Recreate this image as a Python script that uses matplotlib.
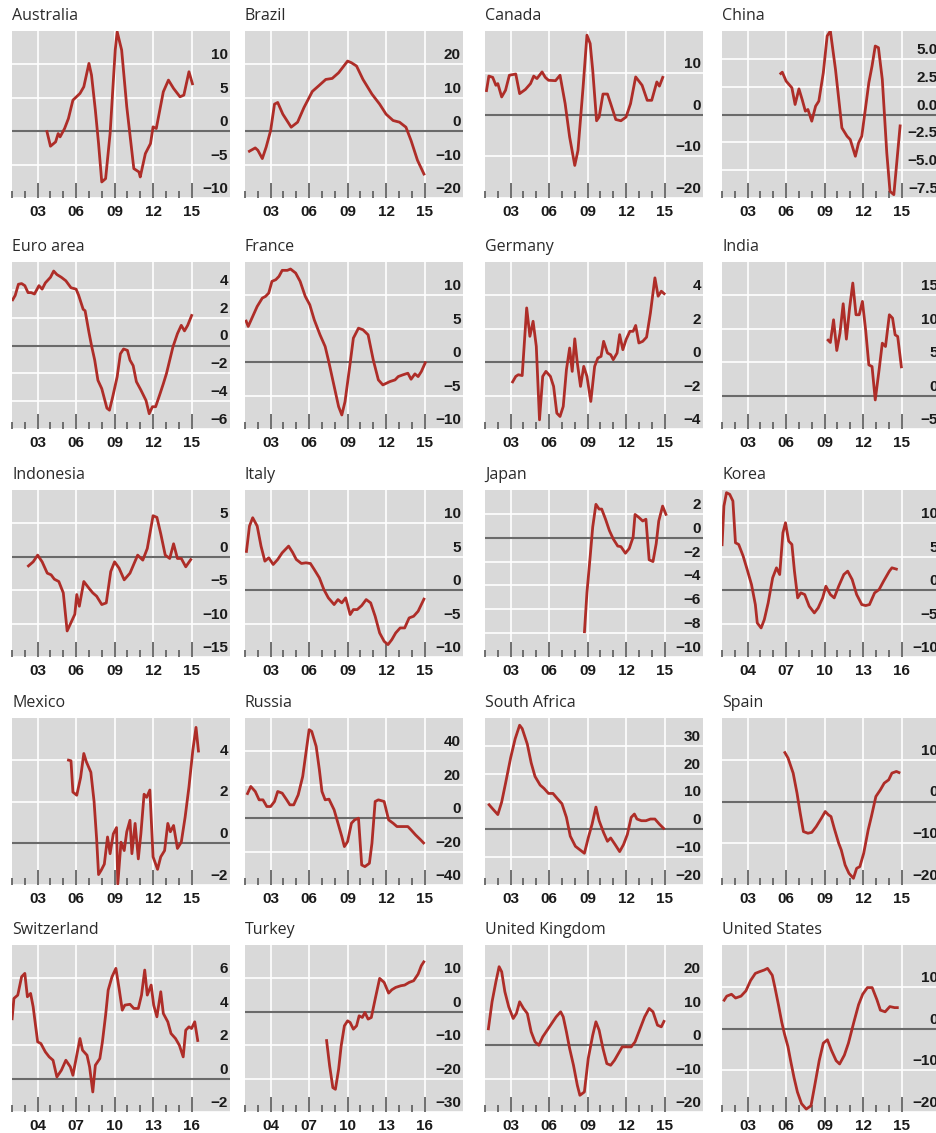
import matplotlib
matplotlib.use("Agg")
import matplotlib.pyplot as plt
import matplotlib.transforms as mtransforms

# ---------------- data ----------------
countries = ["Australia", "Brazil", "Canada", "China",
             "Euro area", "France", "Germany", "India",
             "Indonesia", "Italy", "Japan", "Korea",
             "Mexico", "Russia", "South Africa", "Spain",
             "Switzerland", "Turkey", "United Kingdom", "United States"]

australia_x = [2003.7, 2004.0, 2004.4, 2004.6, 2004.75, 2005.1, 2005.4, 2005.75, 2006.3, 2006.6, 2007.0, 2007.2, 2007.5, 2007.75, 2008.0, 2008.3, 2008.65, 2009.05, 2009.2, 2009.55, 2009.95, 2010.5, 2010.9, 2011.0, 2011.4, 2011.8, 2012.0, 2012.25, 2012.8, 2013.2, 2013.6, 2014.1, 2014.4, 2014.8, 2015.1]
australia_y = [0.15, -2.25, -1.6, -0.35, -0.85, 0.4, 1.9, 4.65, 5.65, 6.65, 10.15, 8.4, 3.15, -1.85, -7.6, -7.1, -0.35, 12.15, 14.9, 12.15, 3.65, -5.6, -6.1, -6.85, -3.35, -1.85, 0.65, 0.4, 5.9, 7.65, 6.4, 5.15, 5.4, 8.9, 6.9]

brazil_x = [2001.25, 2001.8, 2002.0, 2002.35, 2002.65, 2003.0, 2003.3, 2003.55, 2003.95, 2004.6, 2005.1, 2005.6, 2006.25, 2006.75, 2007.3, 2007.8, 2008.3, 2009.0, 2009.3, 2009.7, 2010.2, 2010.9, 2011.5, 2012.0, 2012.55, 2013.05, 2013.55, 2013.95, 2014.45, 2015.0]
brazil_y = [-6.2, -5.0, -5.7, -8.2, -4.75, 0.2, 8.1, 8.6, 5.1, 1.2, 2.7, 7.1, 11.9, 13.6, 15.5, 15.8, 17.5, 21.0, 20.5, 19.5, 15.5, 11.1, 8.1, 5.1, 3.2, 2.7, 1.2, -2.8, -8.7, -13.2]

canada_x = [2001.1, 2001.3, 2001.6, 2001.85, 2002.0, 2002.3, 2002.6, 2002.9, 2003.4, 2003.7, 2004.15, 2004.55, 2004.8, 2005.05, 2005.45, 2005.7, 2005.95, 2006.5, 2006.85, 2007.25, 2007.6, 2008.0, 2008.25, 2008.65, 2008.95, 2009.2, 2009.4, 2009.7, 2009.9, 2010.2, 2010.55, 2010.8, 2011.2, 2011.6, 2012.0, 2012.35, 2012.75, 2013.25, 2013.65, 2014.0, 2014.4, 2014.6, 2014.9]
canada_y = [5.4, 9.2, 8.9, 7.0, 7.4, 4.2, 5.8, 9.4, 9.7, 5.0, 6.0, 7.4, 9.2, 8.6, 10.2, 8.9, 8.2, 8.1, 9.4, 2.6, -5.4, -12.2, -8.6, 6.6, 19.0, 17.0, 10.6, -1.5, -0.6, 4.9, 4.9, 2.6, -1.2, -1.5, -0.6, 2.6, 9.0, 7.0, 3.4, 3.4, 7.8, 6.8, 9.2]

china_x = [2005.5, 2005.7, 2006.0, 2006.45, 2006.7, 2007.0, 2007.25, 2007.5, 2007.7, 2008.0, 2008.3, 2008.55, 2008.9, 2009.2, 2009.45, 2009.85, 2010.35, 2010.75, 2011.0, 2011.4, 2011.65, 2011.9, 2012.45, 2012.7, 2012.95, 2013.2, 2013.5, 2013.85, 2014.1, 2014.4, 2014.65, 2014.9]
china_y = [3.6, 3.8, 3.0, 2.4, 0.9, 2.3, 1.35, 0.3, 0.45, -0.6, 0.75, 1.2, 3.75, 7.05, 7.5, 4.05, -1.2, -1.95, -2.25, -3.75, -2.55, -1.95, 2.85, 4.35, 6.15, 6.0, 3.15, -3.45, -6.9, -7.2, -4.05, -0.9]

euro_x = [2001.0, 2001.25, 2001.5, 2001.75, 2002.0, 2002.25, 2002.5, 2002.75, 2003.1, 2003.35, 2003.6, 2004.0, 2004.25, 2004.5, 2004.85, 2005.2, 2005.6, 2006.0, 2006.2, 2006.55, 2006.7, 2007.0, 2007.2, 2007.45, 2007.7, 2008.0, 2008.4, 2008.6, 2008.85, 2009.2, 2009.45, 2009.7, 2010.0, 2010.2, 2010.45, 2010.7, 2011.05, 2011.45, 2011.7, 2011.95, 2012.2, 2012.55, 2012.8, 2013.05, 2013.55, 2013.9, 2014.2, 2014.45, 2014.7, 2015.05]
euro_y = [3.2, 3.6, 4.4, 4.45, 4.3, 3.8, 3.8, 3.7, 4.3, 4.05, 4.5, 4.9, 5.35, 5.1, 4.9, 4.65, 4.15, 4.05, 3.6, 2.6, 2.5, 0.95, 0.0, -1.05, -2.5, -3.1, -4.5, -4.65, -3.7, -2.25, -0.6, -0.25, -0.35, -1.05, -1.45, -2.6, -3.2, -3.95, -4.9, -4.4, -4.4, -3.45, -2.75, -2.0, -0.1, 0.85, 1.45, 1.05, 1.45, 2.25]

france_x = [2001.05, 2001.25, 2001.6, 2001.95, 2002.35, 2002.6, 2002.85, 2003.1, 2003.4, 2003.65, 2003.9, 2004.3, 2004.55, 2004.95, 2005.3, 2005.7, 2006.05, 2006.4, 2006.85, 2007.25, 2007.5, 2007.9, 2008.3, 2008.55, 2008.8, 2009.2, 2009.45, 2009.85, 2010.2, 2010.6, 2011.0, 2011.4, 2011.75, 2012.3, 2012.7, 2012.95, 2013.3, 2013.7, 2013.95, 2014.25, 2014.5, 2014.75, 2015.1]
france_y = [6.35, 5.35, 6.85, 8.35, 9.6, 9.85, 10.35, 12.1, 12.35, 12.85, 13.75, 13.75, 13.95, 13.35, 12.1, 9.85, 8.6, 6.35, 4.1, 2.35, 0.35, -3.15, -6.65, -7.9, -5.9, -0.15, 3.6, 5.1, 4.85, 4.1, 0.35, -2.65, -3.4, -2.9, -2.65, -2.15, -1.9, -1.65, -2.55, -1.75, -2.15, -1.4, 0.1]

germany_x = [2003.1, 2003.4, 2003.6, 2003.9, 2004.25, 2004.5, 2004.75, 2005.0, 2005.25, 2005.5, 2005.75, 2006.1, 2006.35, 2006.6, 2006.85, 2007.1, 2007.35, 2007.6, 2007.8, 2008.0, 2008.2, 2008.45, 2008.7, 2008.95, 2009.25, 2009.55, 2009.8, 2010.05, 2010.25, 2010.55, 2010.8, 2011.0, 2011.3, 2011.5, 2011.75, 2012.0, 2012.3, 2012.55, 2012.75, 2013.0, 2013.3, 2013.6, 2013.9, 2014.25, 2014.5, 2014.75, 2015.05]
germany_y = [-1.25, -0.85, -0.75, -0.8, 3.25, 1.55, 2.45, 0.95, -3.45, -0.85, -0.55, -0.85, -1.45, -3.05, -3.25, -2.65, -0.45, 0.85, -0.55, 1.4, -0.05, -1.45, -0.25, -0.85, -2.35, -0.25, 0.25, 0.35, 1.25, 0.55, 0.45, 0.15, 0.55, 1.65, 0.75, 1.35, 1.85, 1.85, 2.2, 1.15, 1.25, 1.5, 2.95, 5.05, 3.95, 4.25, 4.05]

india_x = [2009.2, 2009.45, 2009.7, 2009.95, 2010.2, 2010.45, 2010.7, 2010.95, 2011.2, 2011.45, 2011.7, 2011.95, 2012.2, 2012.45, 2012.7, 2012.95, 2013.25, 2013.5, 2013.75, 2014.05, 2014.3, 2014.5, 2014.7, 2015.0]
india_y = [8.45, 7.95, 11.35, 6.75, 9.35, 13.75, 8.45, 13.1, 16.85, 12.1, 12.1, 14.1, 9.85, 4.6, 4.35, -0.65, 3.85, 7.85, 7.35, 12.1, 11.6, 9.1, 8.85, 4.1]

indonesia_x = [2002.2, 2002.65, 2003.0, 2003.35, 2003.75, 2004.05, 2004.3, 2004.65, 2005.0, 2005.3, 2005.6, 2005.9, 2006.05, 2006.25, 2006.6, 2007.0, 2007.3, 2007.6, 2008.0, 2008.35, 2008.7, 2009.0, 2009.35, 2009.75, 2010.2, 2010.8, 2011.2, 2011.55, 2012.0, 2012.3, 2012.6, 2012.95, 2013.3, 2013.6, 2013.9, 2014.2, 2014.55, 2015.0]
indonesia_y = [-1.5, -0.75, 0.25, -0.75, -2.45, -2.7, -3.35, -3.7, -5.4, -11.1, -9.85, -8.6, -5.65, -7.4, -3.7, -4.7, -5.4, -5.9, -7.15, -6.9, -2.2, -0.75, -1.7, -3.45, -2.45, 0.25, -0.5, 1.25, 6.15, 5.9, 3.45, 0.25, -0.25, 1.95, -0.25, -0.25, -1.5, -0.25]

italy_x = [2001.1, 2001.35, 2001.6, 2001.95, 2002.25, 2002.55, 2002.85, 2003.2, 2003.55, 2003.9, 2004.4, 2004.7, 2005.0, 2005.4, 2005.75, 2006.1, 2006.4, 2006.8, 2007.15, 2007.5, 2007.95, 2008.25, 2008.55, 2008.85, 2009.2, 2009.45, 2009.75, 2010.1, 2010.45, 2010.8, 2011.15, 2011.5, 2011.85, 2012.15, 2012.45, 2012.75, 2013.1, 2013.45, 2013.8, 2014.15, 2014.5, 2015.0]
italy_y = [5.6, 9.6, 10.85, 9.6, 6.6, 4.35, 4.85, 3.85, 4.6, 5.6, 6.6, 5.7, 4.6, 4.0, 4.1, 4.0, 3.1, 1.85, 0.1, -1.15, -2.15, -1.4, -1.9, -1.15, -3.65, -2.9, -2.9, -2.3, -1.4, -1.9, -3.9, -6.4, -7.65, -8.15, -7.4, -6.4, -5.65, -5.65, -4.15, -3.9, -3.15, -1.15]

japan_x = [2008.75, 2008.95, 2009.2, 2009.4, 2009.65, 2009.9, 2010.1, 2010.4, 2010.7, 2011.0, 2011.35, 2011.6, 2011.95, 2012.25, 2012.55, 2012.7, 2013.0, 2013.3, 2013.55, 2013.8, 2014.1, 2014.35, 2014.55, 2014.85, 2015.15]
japan_y = [-8.0, -4.6, -1.6, 0.9, 2.8, 2.4, 2.4, 1.55, 0.6, -0.1, -0.7, -0.75, -1.3, -0.9, 0.05, 1.95, 1.7, 1.4, 1.55, -1.85, -2.0, -0.5, 1.4, 2.65, 1.85]

korea_x = [2002.0, 2002.15, 2002.35, 2002.6, 2002.85, 2003.05, 2003.3, 2003.65, 2004.0, 2004.3, 2004.6, 2004.75, 2005.05, 2005.3, 2005.6, 2005.95, 2006.25, 2006.5, 2006.75, 2006.95, 2007.2, 2007.45, 2007.65, 2007.9, 2008.15, 2008.45, 2008.8, 2009.2, 2009.5, 2009.85, 2010.1, 2010.45, 2010.75, 2011.1, 2011.5, 2011.8, 2012.15, 2012.5, 2012.9, 2013.2, 2013.5, 2013.9, 2014.25, 2014.6, 2015.05, 2015.25, 2015.7]
korea_y = [6.6, 12.6, 14.6, 14.35, 13.35, 7.1, 6.85, 5.1, 2.85, 0.85, -2.15, -4.9, -5.65, -4.4, -1.9, 1.85, 3.35, 2.35, 8.6, 10.1, 7.35, 6.85, 2.85, -1.15, -0.4, -0.65, -2.4, -3.4, -2.65, -1.15, 0.6, -0.65, -1.15, 0.6, 2.35, 2.85, 1.6, -0.65, -2.15, -2.3, -2.15, -0.4, 0.1, 1.35, 2.85, 3.35, 3.1]

mexico_x = [2005.3, 2005.6, 2005.75, 2006.05, 2006.35, 2006.6, 2006.8, 2007.15, 2007.4, 2007.6, 2007.75, 2007.95, 2008.2, 2008.45, 2008.65, 2008.9, 2009.15, 2009.25, 2009.5, 2009.75, 2009.95, 2010.2, 2010.35, 2010.6, 2010.85, 2011.05, 2011.3, 2011.5, 2011.75, 2012.0, 2012.35, 2012.6, 2012.9, 2013.15, 2013.35, 2013.6, 2013.9, 2014.2, 2014.5, 2014.8, 2015.1, 2015.35, 2015.55]
mexico_y = [4.0, 3.95, 2.45, 2.3, 3.15, 4.3, 3.9, 3.4, 2.0, 0.2, -1.5, -1.3, -1.0, 0.3, -0.5, 0.45, 0.75, -1.95, 0.05, -0.35, 0.55, 1.1, -0.5, 0.95, -0.75, 0.45, 2.35, 2.2, 2.55, -0.65, -1.25, -0.65, -0.35, 0.95, 0.55, 0.85, -0.25, 0.05, 1.25, 2.7, 4.45, 5.55, 4.35]

russia_x = [2001.15, 2001.45, 2001.8, 2002.1, 2002.4, 2002.7, 2003.0, 2003.3, 2003.55, 2003.9, 2004.25, 2004.5, 2004.8, 2005.15, 2005.5, 2005.75, 2006.0, 2006.2, 2006.55, 2006.8, 2007.0, 2007.25, 2007.55, 2007.95, 2008.25, 2008.55, 2008.75, 2009.0, 2009.3, 2009.55, 2009.85, 2010.1, 2010.35, 2010.7, 2010.9, 2011.15, 2011.4, 2011.85, 2012.2, 2012.55, 2012.85, 2013.25, 2013.7, 2013.95, 2014.3, 2014.7, 2015.0]
russia_y = [14, 19, 16, 11, 11, 7, 7, 10, 16, 15, 11, 8, 8, 14, 25, 39, 53, 52, 43, 29, 16, 11, 11.4, 5, -3, -11, -17, -14, -3, -1, 0, -28, -29, -27, -15, 10, 11, 10, -1, -3, -5, -5, -5, -7, -10, -13, -15.4]

safrica_x = [2001.25, 2001.6, 2002.0, 2002.3, 2002.6, 2003.0, 2003.35, 2003.7, 2003.9, 2004.3, 2004.6, 2004.9, 2005.3, 2005.6, 2005.95, 2006.3, 2006.65, 2007.0, 2007.35, 2007.65, 2008.05, 2008.4, 2008.75, 2009.05, 2009.35, 2009.65, 2009.9, 2010.25, 2010.55, 2010.8, 2011.15, 2011.5, 2011.8, 2012.1, 2012.4, 2012.65, 2012.85, 2013.2, 2013.55, 2013.9, 2014.25, 2014.6, 2015.0]
safrica_y = [9.2, 7.35, 5.3, 9.8, 16.5, 25.7, 32.5, 37.4, 36.2, 30.6, 23.9, 19.0, 15.9, 14.7, 12.9, 12.9, 11.0, 9.2, 4.3, -2.45, -6.1, -7.35, -8.6, -3.1, 1.85, 8.0, 3.1, -1.2, -4.3, -3.1, -5.5, -8.0, -5.5, -1.85, 4.3, 5.5, 3.7, 3.1, 3.1, 3.7, 3.7, 1.85, 0.0]

spain_x = [2005.85, 2006.15, 2006.55, 2006.85, 2007.1, 2007.35, 2007.7, 2008.0, 2008.35, 2008.75, 2009.05, 2009.3, 2009.5, 2009.75, 2010.1, 2010.3, 2010.6, 2010.9, 2011.25, 2011.5, 2011.75, 2012.05, 2012.4, 2012.65, 2013.0, 2013.35, 2013.65, 2014.0, 2014.25, 2014.6, 2014.9]
spain_y = [12.0, 10.4, 6.8, 2.0, -2.8, -7.2, -7.6, -7.4, -6.0, -4.0, -2.4, -3.2, -3.6, -6.4, -10.0, -11.6, -15.2, -17.2, -18.4, -16.0, -15.6, -12.4, -6.8, -3.6, 1.2, 2.8, 4.4, 5.2, 6.8, 7.2, 6.8]

swiss_x = [2002.0, 2002.15, 2002.45, 2002.75, 2003.0, 2003.2, 2003.45, 2003.65, 2004.0, 2004.25, 2004.6, 2004.9, 2005.2, 2005.5, 2005.85, 2006.2, 2006.55, 2006.75, 2007.05, 2007.3, 2007.5, 2007.85, 2008.05, 2008.3, 2008.5, 2008.85, 2009.05, 2009.3, 2009.5, 2009.8, 2010.1, 2010.35, 2010.6, 2010.8, 2011.2, 2011.5, 2011.85, 2012.1, 2012.35, 2012.55, 2012.85, 2013.05, 2013.3, 2013.6, 2013.8, 2014.15, 2014.4, 2014.75, 2015.05, 2015.35, 2015.55, 2015.8, 2016.0, 2016.25, 2016.5]
swiss_y = [3.5, 4.8, 5.0, 6.1, 6.3, 4.9, 5.1, 4.3, 2.2, 2.1, 1.6, 1.3, 1.1, 0.1, 0.5, 1.1, 0.7, 0.2, 1.4, 2.4, 1.7, 1.4, 0.7, -0.8, 0.8, 1.2, 2.2, 3.8, 5.3, 6.1, 6.6, 5.4, 4.1, 4.4, 4.45, 4.2, 4.2, 5.0, 6.5, 5.0, 5.6, 4.4, 3.7, 5.2, 3.9, 3.4, 2.7, 2.4, 2.0, 1.3, 2.9, 3.1, 3.0, 3.4, 2.2]

turkey_x = [2008.35, 2008.6, 2008.85, 2009.05, 2009.3, 2009.5, 2009.75, 2010.0, 2010.2, 2010.45, 2010.7, 2010.9, 2011.15, 2011.35, 2011.6, 2011.85, 2012.15, 2012.5, 2012.85, 2013.2, 2013.45, 2013.75, 2014.15, 2014.45, 2014.8, 2015.15, 2015.5, 2015.75, 2016.0]
turkey_y = [-8.2, -16.2, -22.7, -23.2, -17.2, -10.2, -4.2, -2.7, -3.2, -5.2, -4.2, -1.2, -1.7, -0.2, -2.2, -1.7, 3.8, 10.0, 8.8, 5.6, 6.6, 7.3, 7.8, 8.0, 8.8, 9.3, 11.3, 13.8, 15.3]

uk_x = [2001.25, 2001.55, 2001.85, 2002.1, 2002.3, 2002.55, 2002.85, 2003.2, 2003.45, 2003.7, 2004.0, 2004.3, 2004.6, 2004.9, 2005.2, 2005.5, 2005.85, 2006.2, 2006.55, 2006.9, 2007.1, 2007.35, 2007.6, 2007.9, 2008.2, 2008.4, 2008.75, 2009.05, 2009.4, 2009.65, 2009.9, 2010.2, 2010.5, 2010.8, 2011.1, 2011.4, 2011.7, 2012.05, 2012.4, 2012.7, 2013.1, 2013.45, 2013.8, 2014.1, 2014.45, 2014.75, 2015.0]
uk_y = [4.5, 13, 19, 23.5, 22, 16, 11.5, 8, 9.5, 13, 11, 9.5, 4, 1, 0, 2.5, 4.5, 6.5, 8.5, 10, 8.5, 4, -1, -6, -12, -15, -14, -4, 3, 7, 4.5, -1, -5.5, -6, -4.5, -2.5, -0.5, -0.5, -0.5, 1, 5, 8.5, 11, 10, 6, 5.5, 7.5]

us_x = [2001.11, 2001.37, 2001.74, 2002.06, 2002.48, 2002.86, 2003.23, 2003.6, 2003.92, 2004.29, 2004.55, 2004.92, 2005.13, 2005.4, 2005.66, 2005.88, 2006.14, 2006.35, 2006.62, 2006.88, 2007.2, 2007.57, 2007.94, 2008.21, 2008.58, 2008.9, 2009.22, 2009.53, 2009.9, 2010.17, 2010.54, 2010.86, 2011.28, 2011.65, 2011.97, 2012.34, 2012.71, 2013.08, 2013.35, 2013.72, 2014.09, 2014.46, 2014.78]
us_y = [6.5, 7.75, 8.2, 7.3, 7.75, 9.0, 11.5, 13.2, 13.6, 14.0, 14.4, 12.75, 9.8, 5.7, 1.5, -1.4, -4.3, -7.7, -11.8, -15.2, -18.0, -19.3, -18.5, -14.0, -7.7, -3.5, -2.7, -5.2, -7.7, -8.5, -6.4, -3.5, 1.5, 5.7, 8.2, 9.8, 9.8, 6.9, 4.4, 4.0, 5.25, 5.0, 5.0]

series_x = [australia_x, brazil_x, canada_x, china_x, euro_x, france_x, germany_x, india_x,
            indonesia_x, italy_x, japan_x, korea_x, mexico_x, russia_x, safrica_x, spain_x,
            swiss_x, turkey_x, uk_x, us_x]
series_y = [australia_y, brazil_y, canada_y, china_y, euro_y, france_y, germany_y, india_y,
            indonesia_y, italy_y, japan_y, korea_y, mexico_y, russia_y, safrica_y, spain_y,
            swiss_y, turkey_y, uk_y, us_y]

# y-axis ranges and tick values per panel
y_limits = [(-10, 15), (-20, 30), (-20, 20), (-7.5, 7.5),
            (-6, 6), (-10, 15), (-4, 6), (-5, 20),
            (-15, 10), (-10, 15), (-10, 4), (-10, 15),
            (-2, 6), (-40, 60), (-20, 40), (-20, 20),
            (-2, 8), (-30, 20), (-20, 30), (-20, 20)]
y_ticks = [[-10, -5, 0, 5, 10], [-20, -10, 0, 10, 20], [-20, -10, 0, 10], [-7.5, -5, -2.5, 0, 2.5, 5],
           [-6, -4, -2, 0, 2, 4], [-10, -5, 0, 5, 10], [-4, -2, 0, 2, 4], [-5, 0, 5, 10, 15],
           [-15, -10, -5, 0, 5], [-10, -5, 0, 5, 10], [-10, -8, -6, -4, -2, 0, 2], [-10, -5, 0, 5, 10],
           [-2, 0, 2, 4], [-40, -20, 0, 20, 40], [-20, -10, 0, 10, 20, 30], [-20, -10, 0, 10],
           [-2, 0, 2, 4, 6], [-30, -20, -10, 0, 10], [-20, -10, 0, 10, 20], [-20, -10, 0, 10]]
y_decimals = [0, 0, 0, 1, 0, 0, 0, 0, 0, 0, 0, 0, 0, 0, 0, 0, 0, 0, 0, 0]

# x axis: first year of each panel (ticks every year, labels every 3 years)
x_start = [2001, 2001, 2001, 2001,
           2001, 2001, 2001, 2001,
           2001, 2001, 2001, 2002,
           2001, 2001, 2001, 2001,
           2002, 2002, 2001, 2001]
x_major_a = [2003, 2006, 2009, 2012, 2015]
x_labels_a = ["03", "06", "09", "12", "15"]
x_major_b = [2004, 2007, 2010, 2013, 2016]
x_labels_b = ["04", "07", "10", "13", "16"]

# ---------------- figure ----------------
W, H = 936, 1133
fig = plt.figure(figsize=(W / 100, H / 100), dpi=100)
fig.patch.set_facecolor("white")

col_left = [12, 245, 485, 722]
row_top = [31, 262, 490, 718, 945]
pw, ph = 218, 167

BG = "#d9d9d9"
RED = "#ae2d28"
ZERO = "#6a6a6a"
TICK = "#646464"
TXT = "#1a1a1a"
title_font = "Open Sans"
num_font = "Liberation Sans"


def fmt(v, d):
    s = f"{abs(v):.{d}f}"
    return ("\u2212" + s) if v < 0 else s


for i, name in enumerate(countries):
    r, c = divmod(i, 4)
    l, t = col_left[c], row_top[r]
    ax = fig.add_axes([l / W, 1 - (t + ph) / H, pw / W, ph / H])
    ax.set_facecolor(BG)
    for s in ax.spines.values():
        s.set_visible(False)

    x0 = x_start[i]
    ax.set_xlim(x0, x0 + 17)
    lo, hi = y_limits[i]
    ax.set_ylim(lo, hi)

    majors = x_major_b if x0 == 2002 else x_major_a
    labels = x_labels_b if x0 == 2002 else x_labels_a

    # grid
    for yt in y_ticks[i]:
        if yt != 0:
            ax.axhline(yt, color="white", lw=1.2, zorder=1)
    for xm in majors:
        ax.axvline(xm, color="white", lw=1.2, zorder=1)
    ax.axhline(0, color=ZERO, lw=1.5, zorder=2)

    ax.plot(series_x[i], series_y[i], color=RED, lw=2.0, zorder=3,
            solid_joinstyle="round", solid_capstyle="butt")

    # x ticks
    ax.set_xticks(majors)
    ax.set_xticklabels(labels)
    ax.set_xticks(list(range(x0, majors[-1] + 1)), minor=True)
    ax.tick_params(axis="x", which="major", direction="in", length=11, width=1.3,
                   color=TICK, pad=5, labelsize=11, labelcolor=TXT)
    ax.tick_params(axis="x", which="minor", direction="in", length=5, width=1.3,
                   color=TICK)
    for lab in ax.get_xticklabels():
        lab.set_fontfamily(num_font)
        lab.set_fontweight("bold")
    ax.set_yticks([])

    # y labels (inside, right-aligned, sitting above their grid line)
    trans = mtransforms.blended_transform_factory(ax.transAxes, ax.transData)
    trans = mtransforms.offset_copy(trans, fig=fig, x=-2, y=2, units="dots")
    for yt in y_ticks[i]:
        ax.text(1.0, yt, fmt(yt, y_decimals[i]), transform=trans, ha="right", va="bottom",
                fontsize=11, fontweight="bold", family=num_font, color=TXT, zorder=4)

    # title
    ax.text(0.0, 1.0, name, transform=mtransforms.offset_copy(ax.transAxes, fig=fig, x=0, y=7, units="dots"),
            ha="left", va="bottom", fontsize=11.5, family=title_font, color="#2a2a2a")

fig.savefig("out.png", dpi=100, facecolor="white")
